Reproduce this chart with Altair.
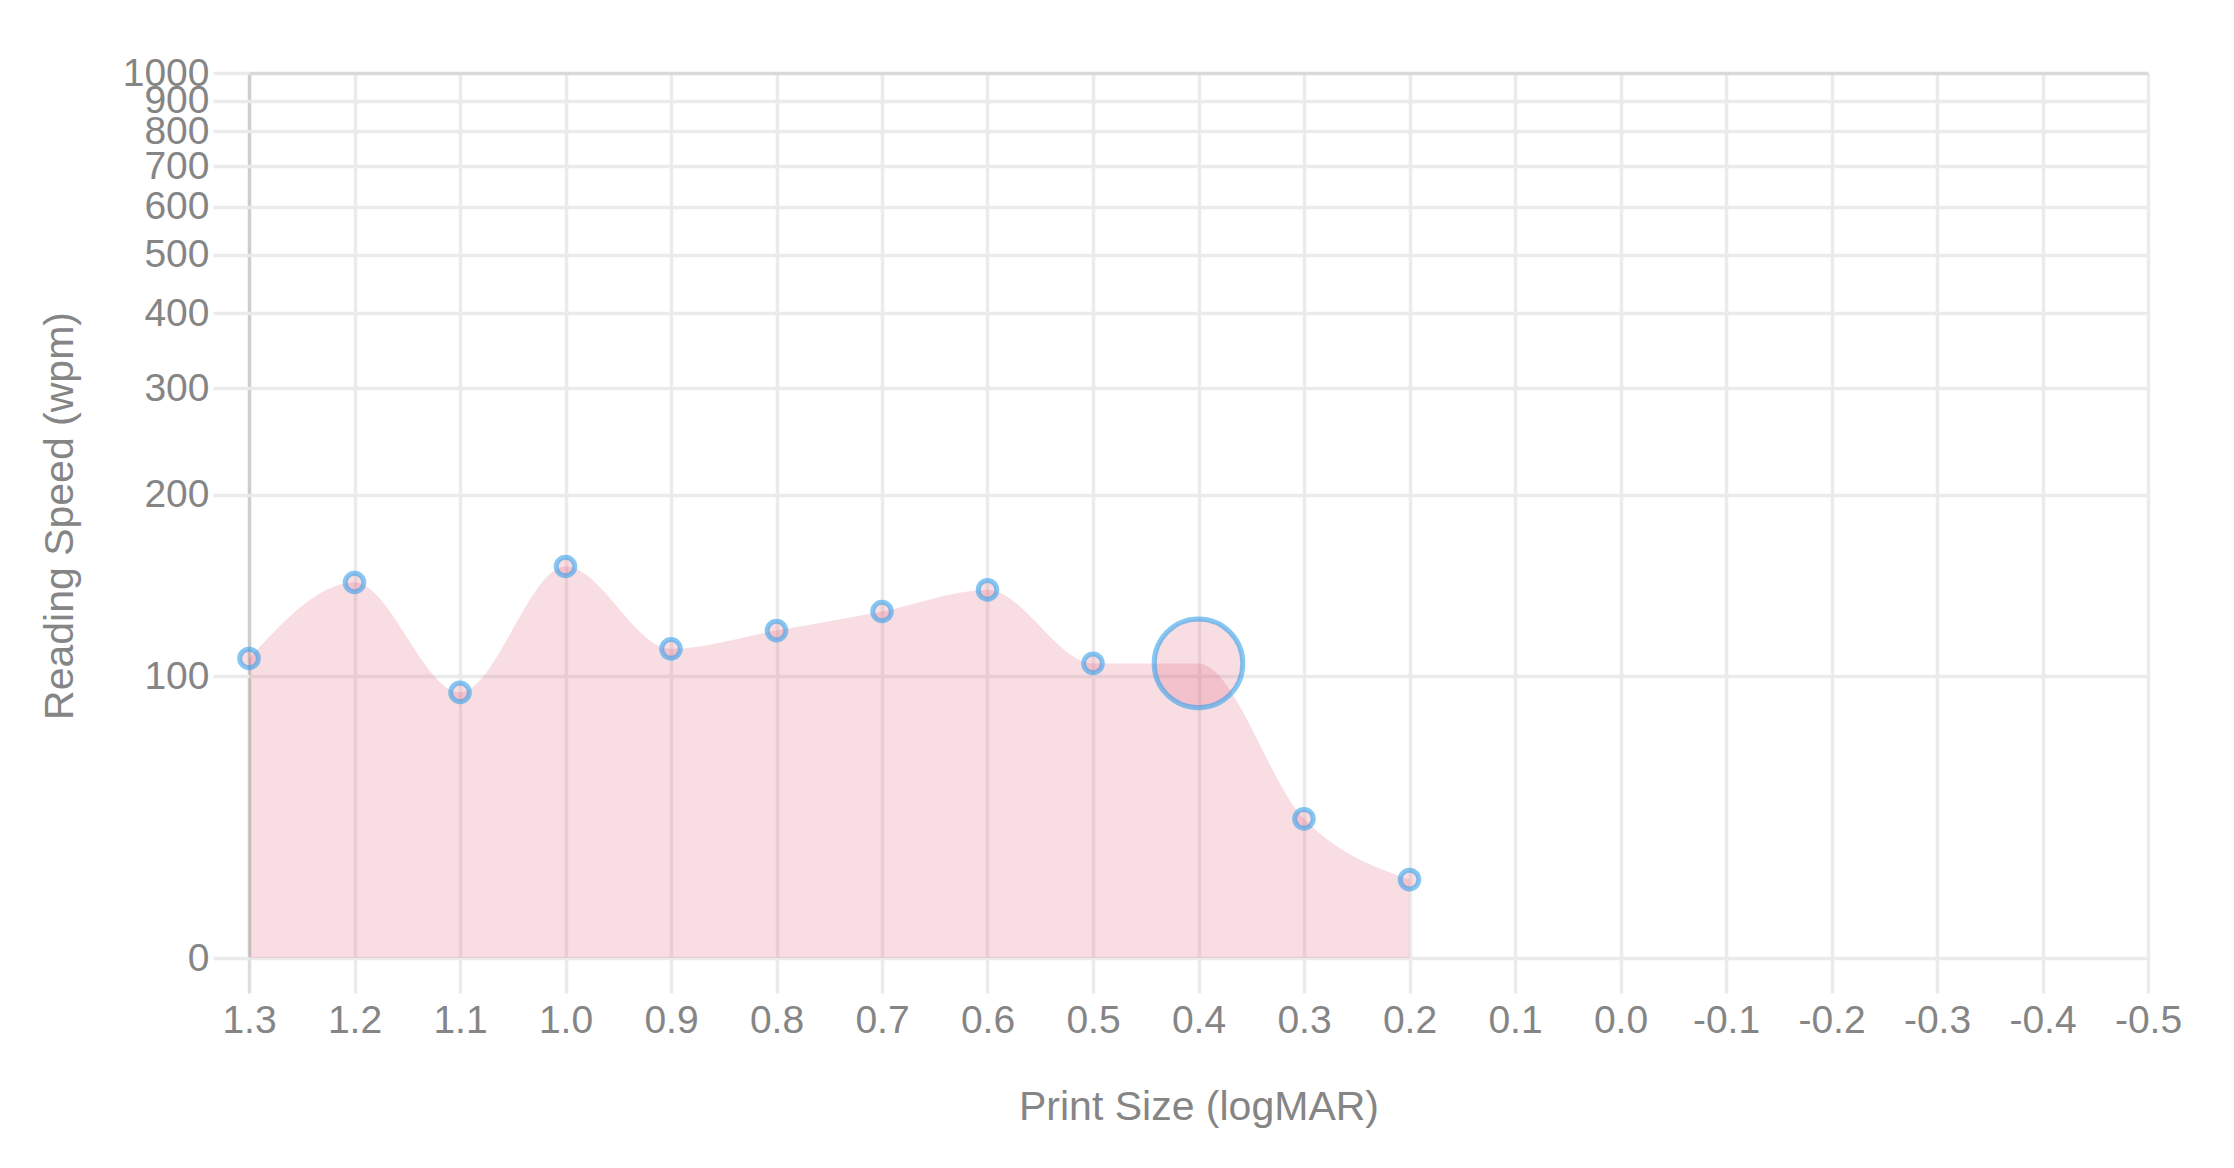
import altair as alt
import pandas as pd

# ---- data ----
logmar = [1.3, 1.2, 1.1, 1.0, 0.9, 0.8, 0.7, 0.6, 0.5, 0.4, 0.3, 0.2]
speed = [107, 143, 94, 152, 111, 119, 128, 139, 105, 105, 58, 46]

x_ticks = [1.3, 1.2, 1.1, 1.0, 0.9, 0.8, 0.7, 0.6, 0.5, 0.4, 0.3, 0.2, 0.1,
           0.0, -0.1, -0.2, -0.3, -0.4, -0.5]
y_ticks = [0, 100, 200, 300, 400, 500, 600, 700, 800, 900, 1000]

Y_FLOOR = 34.1      # position of the "0" tick at the foot of the log axis
HIGHLIGHT = 0.4     # the hovered point

df = pd.DataFrame({"logmar": logmar, "speed": speed})
y_tick_pos = [Y_FLOOR if v == 0 else v for v in y_ticks]

FONT = "Liberation Sans"
TXT = "#858585"
GRID = "#ebebeb"
PINK = "#dc5573"
BLUE = "#36a2eb"

W, H = 1899, 885

x_axis = alt.Axis(
    values=x_ticks,
    labelExpr="replace(format(datum.value, '.1f'), '\u2212', '-')",
    title="Print Size (logMAR)",
    grid=True,
    gridColor={"condition": {"test": "datum.value > 1.25", "value": "#cdcdcd"}, "value": GRID},
    gridWidth=3.5,
    tickColor={"condition": {"test": "datum.value > 1.25", "value": "#dedede"}, "value": GRID},
    tickWidth=3.5,
    tickSize=35,
    domain=False,
    labelFont=FONT, labelFontSize=39, labelColor=TXT, labelPadding=8,
    labelFlush=False, labelOverlap=False, labelBound=False,
    titleFont=FONT, titleFontSize=41, titleColor=TXT, titleFontWeight="normal",
    titleX=W / 2, titleY=161, titleAlign="center", titleBaseline="alphabetic",
)

y_axis = alt.Axis(
    values=y_tick_pos,
    labelExpr="datum.value < 99 ? '0' : format(datum.value, 'd')",
    title="Reading Speed (wpm)",
    grid=True,
    gridColor={"condition": {"test": "datum.value > 999", "value": "#d9d9d9"}, "value": GRID},
    gridWidth=3.5,
    tickColor=GRID,
    tickWidth=3.5,
    tickSize=36,
    domain=False,
    labelFont=FONT, labelFontSize=39, labelColor=TXT, labelPadding=4,
    labelFlush=False, labelOverlap=False, labelBound=False,
    titleFont=FONT, titleFontSize=41, titleColor=TXT, titleFontWeight="normal",
    titleAngle=270, titleX=-177, titleY=H / 2, titleAlign="center",
    titleBaseline="alphabetic",
)

x_enc = alt.X("logmar:Q",
              scale=alt.Scale(domain=[min(x_ticks), max(x_ticks)], reverse=True,
                              nice=False, zero=False),
              axis=x_axis)
y_enc = alt.Y("speed:Q",
              scale=alt.Scale(type="log", domain=[Y_FLOOR, max(y_ticks)], nice=False),
              axis=y_axis)

base = alt.Chart(df).encode(x=x_enc, y=y_enc)

area = base.mark_area(interpolate="monotone", color=PINK, opacity=0.2).encode(
    y2=alt.Y2(datum=Y_FLOOR)
)

points = base.mark_point(
    shape="circle", filled=True, fill=PINK, fillOpacity=0.2,
    stroke=BLUE, strokeOpacity=0.6, strokeWidth=5, size=346, opacity=1
).transform_filter(f"abs(datum.logmar - {HIGHLIGHT}) > 1e-6")

hover = base.mark_point(
    shape="circle", filled=True, fill=PINK, fillOpacity=0.2,
    stroke=BLUE, strokeOpacity=0.6, strokeWidth=5, size=7850, opacity=1
).transform_filter(f"abs(datum.logmar - {HIGHLIGHT}) < 1e-6")

chart = alt.layer(area, points, hover).properties(
    width=W, height=H,
    autosize=alt.AutoSizeParams(type="none"),
    padding={"left": 241, "top": 65, "right": 70, "bottom": 180},
    background="white",
).configure_view(stroke=None)

chart.save("out.html", embed_options={"renderer": "svg", "actions": False})
